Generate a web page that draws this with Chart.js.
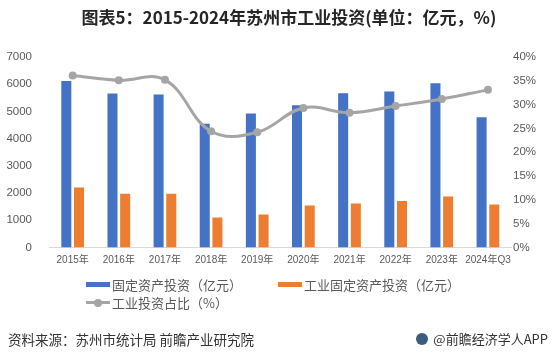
<!DOCTYPE html>
<html>
<head>
<meta charset="utf-8">
<script src="https://cdn.jsdelivr.net/npm/chart.js@4/dist/chart.umd.min.js"></script>
<style>
  html, body { margin: 0; padding: 0; background: #fff; }
  body { width: 553px; height: 359px; position: relative; overflow: hidden;
         font-family: "Noto Sans CJK SC", "Liberation Sans", sans-serif; }
  #wrap { position: absolute; left: 0; top: 0; width: 553px; height: 359px; }
  #title { position: absolute; left: 0; top: 6px; width: 578px; text-align: center;
           font-weight: bold; font-size: 17px; color: #262626; line-height: 22px; white-space: nowrap; }
  .lg { position: absolute; height: 18px; display: flex; align-items: center;
        font-size: 13px; color: #595959; white-space: nowrap; }
  .lg .mk { width: 24px; height: 5px; margin-right: 2px; position: relative; }
  .lg .ln { width: 24px; height: 3px; margin-right: 2px; position: relative; }
  .lg .ln i { position: absolute; left: 8px; top: -2.5px; width: 8px; height: 8px; border-radius: 50%; }
  #src { position: absolute; left: 8px; top: 330px; font-size: 13.5px; color: #333; line-height: 18px; white-space: nowrap; }
  #brand { position: absolute; right: 5px; top: 330px; font-size: 13px; color: #333; line-height: 18px; white-space: nowrap; }
  #logo { position: absolute; left: 416px; top: 333px; width: 12px; height: 12px; border-radius: 50%;
          background: #3d5a80; }
</style>
</head>
<body>
<div id="wrap"><canvas id="c" width="553" height="359"></canvas></div>
<div id="title">图表5：2015-2024年苏州市工业投资(单位：亿元，%)</div>
<div id="legend"></div>
<div id="src">资料来源：苏州市统计局 前瞻产业研究院</div>
<div id="logo"></div>
<div id="brand">@前瞻经济学人APP</div>
<script>
const categories = ['2015年','2016年','2017年','2018年','2019年','2020年','2021年','2022年','2023年','2024年Q3'];
const fixedInvest = [6120, 5660, 5620, 4550, 4920, 5225, 5667, 5730, 6035, 4783];
const industrialInvest = [2203, 1971, 1971, 1098, 1209, 1540, 1614, 1713, 1872, 1577];
const industrialShare = [36.1, 35.1, 35.2, 24.4, 24.2, 29.3, 28.3, 29.7, 31.2, 33.1];
const leftTicks = [0, 1000, 2000, 3000, 4000, 5000, 6000, 7000];
const rightTicks = [0, 5, 10, 15, 20, 25, 30, 35, 40];
const seriesNames = ['固定资产投资（亿元）', '工业固定资产投资（亿元）', '工业投资占比（%）'];

const tickFamily = '"Liberation Sans", "Noto Sans CJK SC", sans-serif';

const chart = new Chart(document.getElementById('c'), {
  data: {
    labels: categories,
    datasets: [
      { type: 'line', label: seriesNames[2], data: industrialShare, yAxisID: 'y2',
        borderColor: '#A5A5A5', backgroundColor: '#A5A5A5', borderWidth: 3,
        pointRadius: 4, pointBackgroundColor: '#A5A5A5', pointBorderWidth: 0,
        tension: 0.4, cubicInterpolationMode: 'default', order: 0 },
      { type: 'bar', label: seriesNames[0], data: fixedInvest, yAxisID: 'y',
        backgroundColor: '#4472C4', categoryPercentage: 0.55, barPercentage: 0.79, order: 1 },
      { type: 'bar', label: seriesNames[1], data: industrialInvest, yAxisID: 'y',
        backgroundColor: '#ED7D31', categoryPercentage: 0.55, barPercentage: 0.79, order: 1 }
    ]
  },
  options: {
    responsive: false,
    animation: false,
    layout: { padding: { top: 57, left: 0, right: 0, bottom: 0 } },
    plugins: { legend: { display: false }, title: { display: false }, tooltip: { enabled: false } },
    scales: {
      x: {
        grid: { display: false, drawTicks: false },
        border: { display: true, color: '#D9D9D9', width: 1 },
        ticks: { color: '#595959', font: { family: tickFamily, size: 10 }, padding: 7, maxRotation: 0, autoSkip: false },
        afterFit: s => { s.height = 111.5; }
      },
      y: {
        position: 'left', min: 0, max: 7000,
        grid: { display: false, drawTicks: false },
        border: { display: false },
        afterBuildTicks: s => { s.ticks = leftTicks.map(v => ({ value: v })); },
        ticks: { color: '#595959', font: { family: tickFamily, size: 11.5 }, padding: 17.6,
                 callback: v => String(v) },
        afterFit: s => { s.width = 49.6; }
      },
      y2: {
        position: 'right', min: 0, max: 40,
        grid: { display: false, drawTicks: false },
        border: { display: false },
        afterBuildTicks: s => { s.ticks = rightTicks.map(v => ({ value: v })); },
        ticks: { color: '#595959', font: { family: tickFamily, size: 11.5 }, padding: 2,
                 callback: v => v + '%' },
        afterFit: s => { s.width = 42; }
      }
    }
  }
});

// HTML legend built from the datasets
const legendPos = { [seriesNames[0]]: [86, 275.5], [seriesNames[1]]: [278, 275.5], [seriesNames[2]]: [86, 293.5] };
const lg = document.getElementById('legend');
[1, 2, 0].forEach(i => {
  const ds = chart.data.datasets[i];
  const d = document.createElement('div');
  d.className = 'lg';
  const p = legendPos[ds.label];
  d.style.left = p[0] + 'px'; d.style.top = p[1] + 'px';
  const mk = document.createElement('span');
  if (ds.type === 'line') {
    mk.className = 'ln'; mk.style.background = ds.borderColor;
    const dot = document.createElement('i'); dot.style.background = ds.borderColor; mk.appendChild(dot);
  } else {
    mk.className = 'mk'; mk.style.background = ds.backgroundColor;
  }
  d.appendChild(mk);
  const t = document.createElement('span'); t.textContent = ds.label; d.appendChild(t);
  lg.appendChild(d);
});
</script>
</body>
</html>
